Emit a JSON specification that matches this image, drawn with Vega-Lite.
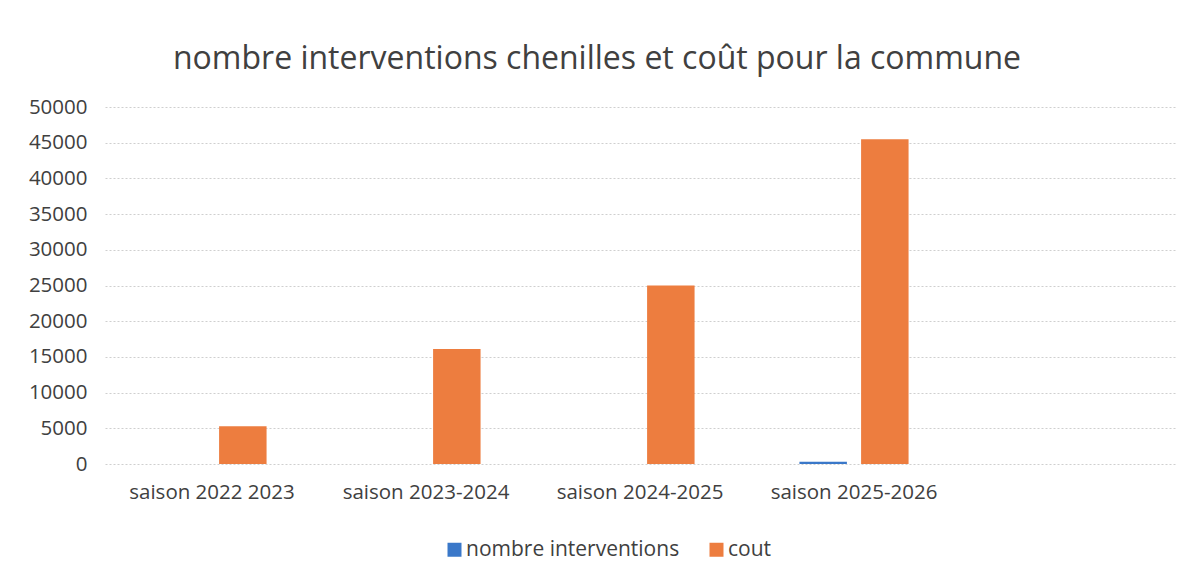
{
  "$schema": "https://vega.github.io/schema/vega-lite/v6.json",
  "width": 1070,
  "height": 357,
  "padding": {"left": 28, "top": 43, "right": 14, "bottom": 10},
  "background": "white",
  "title": {
    "text": "nombre interventions chenilles et coût pour la commune",
    "fontSize": 32,
    "font": "Open Sans",
    "fontWeight": "normal",
    "color": "#404040",
    "anchor": "middle",
    "dx": -43,
    "offset": 21
  },
  "data": {
    "values": [
      {"saison": "saison 2022 2023", "serie": "nombre interventions", "valeur": 0},
      {"saison": "saison 2022 2023", "serie": "cout", "valeur": 5300},
      {"saison": "saison 2023-2024", "serie": "nombre interventions", "valeur": 0},
      {"saison": "saison 2023-2024", "serie": "cout", "valeur": 16100},
      {"saison": "saison 2024-2025", "serie": "nombre interventions", "valeur": 0},
      {"saison": "saison 2024-2025", "serie": "cout", "valeur": 25000},
      {"saison": "saison 2025-2026", "serie": "nombre interventions", "valeur": 300},
      {"saison": "saison 2025-2026", "serie": "cout", "valeur": 45500}
    ]
  },
  "mark": {"type": "bar"},
  "encoding": {
    "x": {
      "field": "saison",
      "type": "nominal",
      "scale": {
        "domain": ["saison 2022 2023", "saison 2023-2024", "saison 2024-2025", "saison 2025-2026", " "],
        "paddingInner": 0.49,
        "paddingOuter": 0.245
      },
      "axis": {
        "title": null,
        "labelAngle": 0,
        "labelFontSize": 20.5,
        "labelFont": "Open Sans",
        "labelColor": "#404040",
        "labelPadding": 18,
        "labelLimit": 300,
        "ticks": false,
        "domain": false
      }
    },
    "xOffset": {
      "field": "serie",
      "type": "nominal",
      "sort": ["nombre interventions", "cout"],
      "scale": {"paddingInner": 0.23}
    },
    "y": {
      "field": "valeur",
      "type": "quantitative",
      "scale": {"domain": [0, 50000]},
      "axis": {
        "title": null,
        "values": [0, 5000, 10000, 15000, 20000, 25000, 30000, 35000, 40000, 45000, 50000],
        "format": "d",
        "labelFontSize": 20.5,
        "labelFont": "Open Sans",
        "labelColor": "#404040",
        "labelPadding": 18,
        "ticks": false,
        "domain": false,
        "grid": true,
        "gridColor": "#cfcfcf",
        "gridDash": [2, 2],
        "gridWidth": 1
      }
    },
    "color": {
      "field": "serie",
      "type": "nominal",
      "sort": ["nombre interventions", "cout"],
      "scale": {"domain": ["nombre interventions", "cout"], "range": ["#3a78c9", "#ed7d3f"]},
      "legend": {
        "title": null,
        "orient": "none",
        "legendX": 339,
        "legendY": 432,
        "direction": "horizontal",
        "symbolType": "square",
        "symbolSize": 196,
        "symbolStrokeWidth": 0,
        "labelFontSize": 21,
        "labelFont": "Open Sans",
        "labelColor": "#404040",
        "labelLimit": 400,
        "columnPadding": 26,
        "labelOffset": 1
      }
    }
  },
  "config": {
    "view": {"stroke": null}
  }
}
